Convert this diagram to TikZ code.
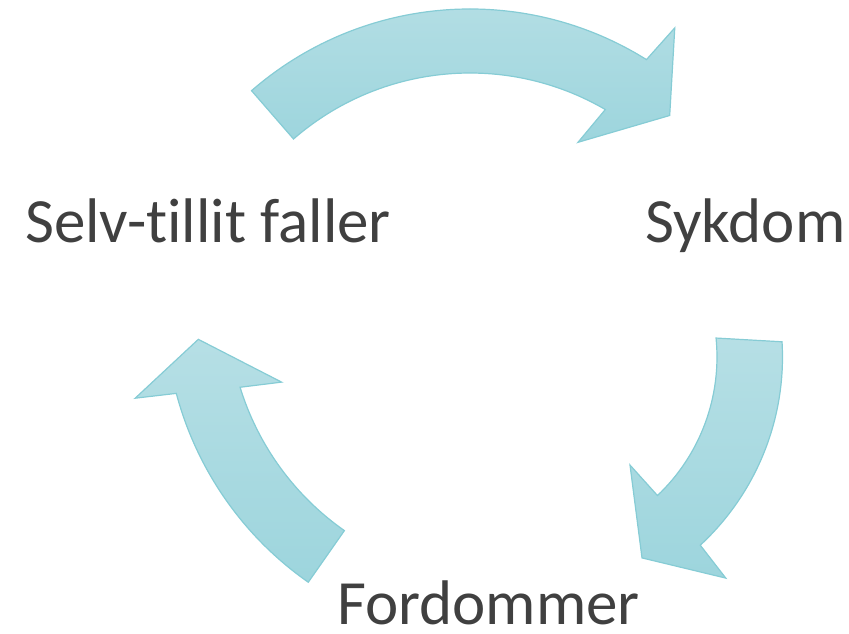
\documentclass[tikz,border=0pt]{standalone}
\usepackage{fontspec}
\setmainfont{Carlito}[Ligatures={NoCommon}]
\definecolor{arrowtop}{HTML}{B6DFE5}
\definecolor{arrowbot}{HTML}{9DD5DD}
\definecolor{arrowline}{HTML}{86CCD5}
\definecolor{txt}{HTML}{404040}
\begin{document}
\begin{tikzpicture}[x=1pt,y=1pt,
  cyclearrow/.style={draw=arrowline, line width=1.2pt, line join=miter, top color=arrowtop, bottom color=arrowbot},
  label/.style={anchor=base west, inner sep=0pt, text=txt, font=\fontsize{63}{70}\selectfont}]
\useasboundingbox (0,0) rectangle (849,633);
% top arrow
\begin{scope}[shift={(470,291)}]
\path[cyclearrow] (131:333pt) arc[start angle=131, end angle=58, radius=333pt]
  -- (56.9:375pt) -- (48.6:302pt) -- (61.6:227pt) -- (59.8:269pt)
  arc[start angle=59.8, end angle=131, radius=269pt] -- cycle;
\end{scope}
% right arrow
\begin{scope}[shift={(526,276)}]
\path[cyclearrow] (3.4:256.5pt) arc[start angle=3.4, end angle=-47.2, radius=256.5pt]
  -- (-47.9:298pt) -- (-60:232pt) -- (-46.1:150pt) -- (-46.5:191pt)
  arc[start angle=-46.5, end angle=5.7, radius=191pt] -- cycle;
\end{scope}
% left arrow
\begin{scope}[shift={(501,326)}]
\path[cyclearrow] (235:336pt) arc[start angle=235, end angle=194.9, radius=336pt]
  -- (194:377pt) -- (186.1:304.4pt) -- (198.9:231.9pt) -- (197.1:273pt)
  arc[start angle=197.1, end angle=235, radius=273pt] -- cycle;
\end{scope}
\node[label] (selv) at (25,390) {Selv-t\kern0pt illit faller};
\node[label] (syk) at (645,390) {Sykdom};
\node[label] (ford) at (337,8.5) {Fordommer};
\end{tikzpicture}
\end{document}
